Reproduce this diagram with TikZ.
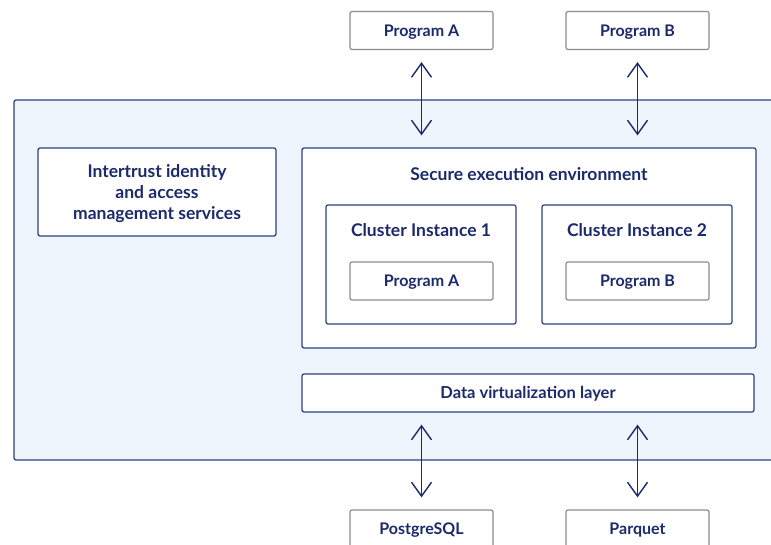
\documentclass[tikz,border=0pt]{standalone}
\usepackage{fontspec}
\setmainfont{Lato}
\usetikzlibrary{arrows.meta}
\definecolor{navy}{HTML}{1B2A6B}
\definecolor{edgeblue}{HTML}{2B3F80}
\definecolor{boxgray}{HTML}{8C8C8C}
\definecolor{paleblue}{HTML}{EFF5FD}

\begin{document}
\begin{tikzpicture}[x=1pt,y=-1pt,
  every node/.style={text=navy,font=\fontsize{16}{19}\selectfont\bfseries},
  oneline/.style={text height=11.8pt,text depth=0pt},
  heading/.style={font=\fontsize{17.5}{21}\selectfont\bfseries},
  prog/.style={oneline,draw=boxgray,line width=1.2pt,rounded corners=2pt,fill=white,minimum width=143pt,minimum height=38pt},
  blk/.style={draw=edgeblue,line width=1.2pt,rounded corners=2pt,fill=white},
  link/.style={navy,line width=1.4pt,{Straight Barb[length=14pt,width=20pt]}-{Straight Barb[length=14pt,width=20pt]},shorten <=12pt,shorten >=12pt}]
\useasboundingbox (0,0) rectangle (771,545);

\node [draw=edgeblue,line width=1.2pt,rounded corners=2pt,fill=paleblue,minimum width=780pt,minimum height=360pt] (platform) at (404,280) {};

\node [prog] (topa) at (421.5,30.5) {Program A};
\node [prog] (topb) at (637.5,30.5) {Program B};

\node [blk,heading,align=center,minimum width=238pt,minimum height=88pt] (iam) at (157,192) {};
\node [heading,align=center] (iamtext) at (157,194) {Intertrust identity\\and access\\management services};

\node [blk,minimum width=454pt,minimum height=200pt] (see) at (529,248) {};
\node [heading,oneline] (seetitle) at (529,175) {Secure execution environment};

\node [blk,minimum width=190pt,minimum height=119pt] (ci1) at (421,264.5) {};
\node [heading,oneline] (ci1title) at (421,231) {Cluster Instance 1};
\node [prog] (inna) at (421.5,281) {Program A};

\node [blk,minimum width=190pt,minimum height=119pt] (ci2) at (637,264.5) {};
\node [heading,oneline] (ci2title) at (637,231) {Cluster Instance 2};
\node [prog] (innb) at (637.5,281) {Program B};

\node [blk,oneline,font=\fontsize{16.5}{19}\selectfont\bfseries,minimum width=452pt,minimum height=38pt] (dvl) at (528,393) {Data virtualization layer};

\node [prog] (pg) at (421.5,529) {PostgreSQL};
\node [prog] (pq) at (637.5,529) {Parquet};

\draw [link] (topa) -- (topa.south |- see.north);
\draw [link] (topb) -- (topb.south |- see.north);
\draw [link] (pg.north |- dvl.south) -- (pg);
\draw [link] (pq.north |- dvl.south) -- (pq);
\end{tikzpicture}
\end{document}
